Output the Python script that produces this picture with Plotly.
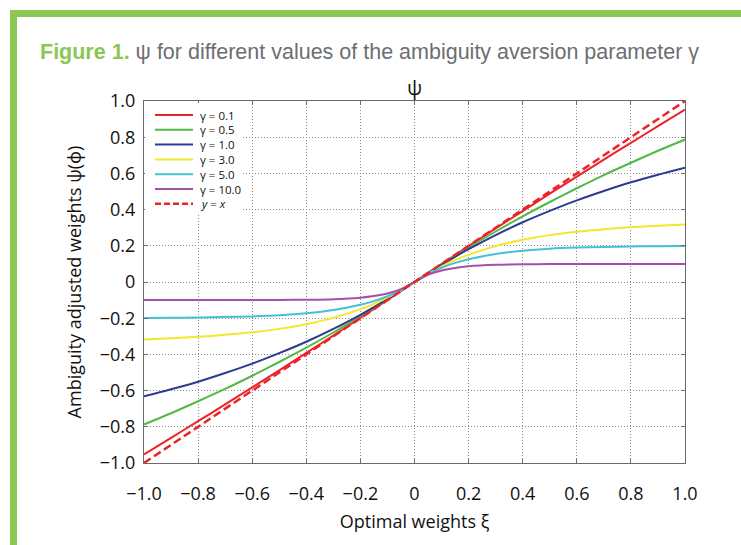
import plotly.graph_objects as go

# ---- data ----
xi = [-1.0, -0.9, -0.8, -0.7, -0.6, -0.5, -0.4, -0.3, -0.2, -0.15, -0.1, -0.05, 0.0,
      0.05, 0.1, 0.15, 0.2, 0.3, 0.4, 0.5, 0.6, 0.7, 0.8, 0.9, 1.0]

psi_g01 = [-0.952, -0.861, -0.769, -0.676, -0.582, -0.488, -0.392, -0.296, -0.198, -0.1489, -0.0995, -0.0499, 0.0,
           0.0499, 0.0995, 0.1489, 0.198, 0.296, 0.392, 0.488, 0.582, 0.676, 0.769, 0.861, 0.952]
psi_g05 = [-0.787, -0.725, -0.659, -0.591, -0.518, -0.442, -0.363, -0.279, -0.190, -0.1445, -0.0975, -0.0494, 0.0,
           0.0494, 0.0975, 0.1445, 0.190, 0.279, 0.363, 0.442, 0.518, 0.591, 0.659, 0.725, 0.787]
psi_g1 = [-0.632, -0.593, -0.551, -0.503, -0.451, -0.393, -0.330, -0.259, -0.181, -0.1393, -0.095, -0.0488, 0.0,
          0.0488, 0.095, 0.1393, 0.181, 0.259, 0.330, 0.393, 0.451, 0.503, 0.551, 0.593, 0.632]
psi_g3 = [-0.317, -0.311, -0.303, -0.292, -0.278, -0.259, -0.233, -0.198, -0.150, -0.1208, -0.0864, -0.0464, 0.0,
          0.0464, 0.0864, 0.1208, 0.150, 0.198, 0.233, 0.259, 0.278, 0.292, 0.303, 0.311, 0.317]
psi_g5 = [-0.199, -0.198, -0.196, -0.194, -0.190, -0.184, -0.173, -0.155, -0.126, -0.1055, -0.0787, -0.0442, 0.0,
          0.0442, 0.0787, 0.1055, 0.126, 0.155, 0.173, 0.184, 0.190, 0.194, 0.196, 0.198, 0.199]
psi_g10 = [-0.100, -0.100, -0.100, -0.0999, -0.0998, -0.099, -0.098, -0.095, -0.0865, -0.0777, -0.0632, -0.0393, 0.0,
           0.0393, 0.0632, 0.0777, 0.0865, 0.095, 0.098, 0.099, 0.0998, 0.0999, 0.100, 0.100, 0.100]
ref_x = [-1.0, 1.0]
ref_y = [-1.0, 1.0]

series_names = ["γ = 0.1", "γ = 0.5", "γ = 1.0", "γ = 3.0", "γ = 5.0", "γ = 10.0", "<i>y</i> = <i>x</i>"]
series_colors = ["#ec2227", "#52b947", "#2e3a92", "#f3e62b", "#43c2d6", "#a550a8", "#ec2227"]

tick_vals = [-1.0, -0.8, -0.6, -0.4, -0.2, 0.0, 0.2, 0.4, 0.6, 0.8, 1.0]
tick_text = ["\u22121.0", "\u22120.8", "\u22120.6", "\u22120.4", "\u22120.2", "0", "0.2", "0.4", "0.6", "0.8", "1.0"]

# ---- layout geometry (pixels) ----
W, H = 741, 545
L, R, T, B = 144, 685, 101, 463


def px(x):
    return (x - L) / (R - L)


def py(y):
    return (B - y) / (B - T)


fig = go.Figure()
ys = [psi_g01, psi_g05, psi_g1, psi_g3, psi_g5, psi_g10]
for name, col, yv in zip(series_names[:6], series_colors[:6], ys):
    fig.add_trace(go.Scatter(x=xi, y=yv, mode="lines", name=name, showlegend=False,
                             line=dict(color=col, width=2, shape="spline", smoothing=0.8)))
fig.add_trace(go.Scatter(x=ref_x, y=ref_y, mode="lines", name="y = x", showlegend=False,
                         line=dict(color=series_colors[6], width=2.5, dash="8px,4px")))

font_main = "Open Sans, Noto Sans, DejaVu Sans, sans-serif"
axis_common = dict(range=[-1, 1], tickvals=tick_vals, ticktext=tick_text,
                   showline=True, linecolor="#6a6a6a", linewidth=1, mirror="ticks",
                   ticks="inside", ticklen=4, tickcolor="#6a6a6a",
                   showgrid=True, gridcolor="#8c8c8c", griddash="1px,2px", gridwidth=1,
                   zeroline=False, tickfont=dict(size=18, color="#111111", family=font_main))

fig.update_layout(
    width=W, height=H,
    margin=dict(l=L, r=W - R, t=T, b=H - B),
    paper_bgcolor="white", plot_bgcolor="white",
    font=dict(family=font_main, color="#111111"),
    xaxis=dict(**axis_common, ticklabelstandoff=14,
               title=dict(text="Optimal weights ξ", font=dict(size=18), standoff=11)),
    yaxis=dict(**axis_common, ticklabelstandoff=4,
               title=dict(text="Ambiguity adjusted weights ψ(ϕ)", font=dict(size=18), standoff=13)),
)

shapes = []
annotations = []
# green frame
shapes.append(dict(type="rect", xref="paper", yref="paper", x0=px(10), x1=px(741), y0=py(17), y1=py(10),
                   fillcolor="#8bc752", line=dict(width=0), layer="above"))
shapes.append(dict(type="rect", xref="paper", yref="paper", x0=px(10), x1=px(17), y0=py(545), y1=py(10),
                   fillcolor="#8bc752", line=dict(width=0), layer="above"))
# figure caption
annotations.append(dict(xref="paper", yref="paper", x=px(38), y=py(52), xanchor="left", yanchor="middle",
                        showarrow=False,
                        text="<b><span style='color:#8bc752'>Figure 1.</span></b> ψ for different values of the ambiguity aversion parameter γ",
                        font=dict(size=21.5, color="#6d6e71",
                                  family="Liberation Sans, Arial, sans-serif")))
# plot title
annotations.append(dict(xref="paper", yref="paper", x=0.5, y=py(88), xanchor="center", yanchor="middle",
                        showarrow=False, text="ψ", font=dict(size=20, color="#111111")))

# legend box (custom, compact like the original)
shapes.append(dict(type="rect", xref="paper", yref="paper", x0=px(145), x1=px(242), y0=py(214), y1=py(103),
                   fillcolor="white", line=dict(width=0), layer="above"))
for i, (name, col) in enumerate(zip(series_names, series_colors)):
    yy = 115 + 14.8 * i
    shapes.append(dict(type="line", xref="paper", yref="paper", x0=px(155), x1=px(193), y0=py(yy), y1=py(yy),
                       line=dict(color=col, width=2.5 if i == 6 else 2, dash="6px,3px" if i == 6 else "solid"),
                       layer="above"))
    annotations.append(dict(xref="paper", yref="paper", x=px(198), y=py(yy), xanchor="left", yanchor="middle",
                            showarrow=False, text=name, font=dict(size=11.5, color="#111111")))

fig.update_layout(shapes=shapes, annotations=annotations)
fig.write_html("out.html", config={"displayModeBar": False},
               post_script="document.body.style.margin='0';")
